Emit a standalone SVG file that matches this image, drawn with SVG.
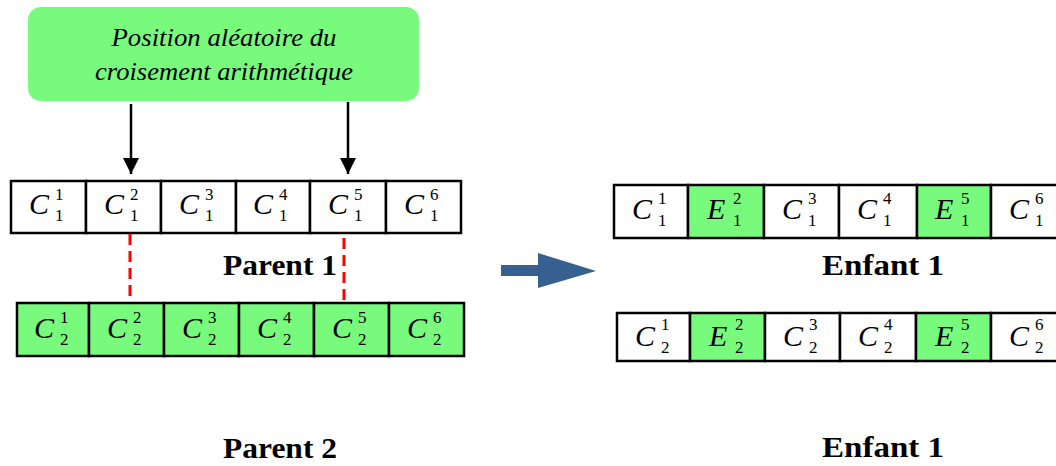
<svg xmlns="http://www.w3.org/2000/svg" width="1056" height="466" viewBox="0 0 1056 466">
<defs>
<marker id="ah" markerWidth="16" markerHeight="16" refX="16" refY="8" orient="auto" markerUnits="userSpaceOnUse" viewBox="0 0 16 16">
<path d="M0,0 L16,8 L0,16 Z" fill="#000"/>
</marker>
<style>
.cell{stroke:#000;stroke-width:2.5;fill:#fff}
.g{fill:#78fa7c}
.v{font-family:'Liberation Serif','Times New Roman',serif;font-style:italic;font-size:30px;fill:#000}
.d{font-family:'Liberation Serif','Times New Roman',serif;font-size:17px;fill:#000}
.lbl{font-family:'Liberation Serif','Times New Roman',serif;font-weight:bold;font-size:30px;fill:#000}
.box{font-family:'Liberation Serif','Times New Roman',serif;font-style:italic;font-size:26px;fill:#000}
</style>
</defs>

<g id="position-box">
<rect x="28" y="7" width="391" height="94" rx="13" fill="#78fa7c"/>
<text class="box" x="224" y="46" text-anchor="middle" textLength="225" lengthAdjust="spacingAndGlyphs">Position aléatoire du</text>
<text class="box" x="224" y="80" text-anchor="middle" textLength="258" lengthAdjust="spacingAndGlyphs">croisement arithmétique</text>
</g>

<g id="parent1">
<rect class="cell" x="11" y="181" width="75" height="52"/>
<rect class="cell" x="86" y="181" width="75" height="52"/>
<rect class="cell" x="161" y="181" width="75" height="52"/>
<rect class="cell" x="236" y="181" width="74" height="52"/>
<rect class="cell" x="310" y="181" width="76" height="52"/>
<rect class="cell" x="386" y="181" width="75" height="52"/>
<text class="v" x="29" y="214">C</text><text class="d" x="55" y="200">1</text><text class="d" x="55" y="221">1</text>
<text class="v" x="104" y="214">C</text><text class="d" x="130" y="200">2</text><text class="d" x="130" y="221">1</text>
<text class="v" x="179" y="214">C</text><text class="d" x="205" y="200">3</text><text class="d" x="205" y="221">1</text>
<text class="v" x="253" y="214">C</text><text class="d" x="279" y="200">4</text><text class="d" x="279" y="221">1</text>
<text class="v" x="328" y="214">C</text><text class="d" x="354" y="200">5</text><text class="d" x="354" y="221">1</text>
<text class="v" x="404" y="214">C</text><text class="d" x="430" y="200">6</text><text class="d" x="430" y="221">1</text>
</g>
<text id="label-parent1" class="lbl" x="280" y="275" text-anchor="middle" textLength="114" lengthAdjust="spacingAndGlyphs">Parent 1</text>

<g id="parent2">
<rect class="cell g" x="17" y="303" width="72" height="53"/>
<rect class="cell g" x="89" y="303" width="75" height="53"/>
<rect class="cell g" x="164" y="303" width="75" height="53"/>
<rect class="cell g" x="239" y="303" width="75" height="53"/>
<rect class="cell g" x="314" y="303" width="75" height="53"/>
<rect class="cell g" x="389" y="303" width="75" height="53"/>
<text class="v" x="34" y="338">C</text><text class="d" x="60" y="323">1</text><text class="d" x="60" y="345">2</text>
<text class="v" x="107" y="338">C</text><text class="d" x="133" y="323">2</text><text class="d" x="133" y="345">2</text>
<text class="v" x="182" y="338">C</text><text class="d" x="208" y="323">3</text><text class="d" x="208" y="345">2</text>
<text class="v" x="257" y="338">C</text><text class="d" x="283" y="323">4</text><text class="d" x="283" y="345">2</text>
<text class="v" x="332" y="338">C</text><text class="d" x="358" y="323">5</text><text class="d" x="358" y="345">2</text>
<text class="v" x="407" y="338">C</text><text class="d" x="433" y="323">6</text><text class="d" x="433" y="345">2</text>
</g>
<text id="label-parent2" class="lbl" x="280" y="458" text-anchor="middle" textLength="114" lengthAdjust="spacingAndGlyphs">Parent 2</text>

<g id="enfant1">
<rect class="cell" x="614" y="185" width="74" height="53"/>
<rect class="cell g" x="688" y="185" width="76" height="53"/>
<rect class="cell" x="764" y="185" width="75" height="53"/>
<rect class="cell" x="839" y="185" width="78" height="53"/>
<rect class="cell g" x="917" y="185" width="74" height="53"/>
<rect class="cell" x="991" y="185" width="76" height="53"/>
<text class="v" x="632" y="219">C</text><text class="d" x="658" y="204">1</text><text class="d" x="658" y="226">1</text>
<text class="v" x="707" y="219">E</text><text class="d" x="733" y="204">2</text><text class="d" x="733" y="226">1</text>
<text class="v" x="782" y="219">C</text><text class="d" x="808" y="204">3</text><text class="d" x="808" y="226">1</text>
<text class="v" x="857" y="219">C</text><text class="d" x="883" y="204">4</text><text class="d" x="883" y="226">1</text>
<text class="v" x="935" y="219">E</text><text class="d" x="961" y="204">5</text><text class="d" x="961" y="226">1</text>
<text class="v" x="1009" y="219">C</text><text class="d" x="1035" y="204">6</text><text class="d" x="1035" y="226">1</text>
</g>
<text id="label-enfant1" class="lbl" x="883" y="275" text-anchor="middle" textLength="122" lengthAdjust="spacingAndGlyphs">Enfant  1</text>

<g id="enfant2">
<rect class="cell" x="617" y="313" width="73" height="48"/>
<rect class="cell g" x="690" y="313" width="75" height="48"/>
<rect class="cell" x="765" y="313" width="75" height="48"/>
<rect class="cell" x="840" y="313" width="76" height="48"/>
<rect class="cell g" x="916" y="313" width="75" height="48"/>
<rect class="cell" x="991" y="313" width="76" height="48"/>
<text class="v" x="635" y="346">C</text><text class="d" x="661" y="330">1</text><text class="d" x="661" y="353">2</text>
<text class="v" x="709" y="346">E</text><text class="d" x="735" y="330">2</text><text class="d" x="735" y="353">2</text>
<text class="v" x="783" y="346">C</text><text class="d" x="809" y="330">3</text><text class="d" x="809" y="353">2</text>
<text class="v" x="858" y="346">C</text><text class="d" x="884" y="330">4</text><text class="d" x="884" y="353">2</text>
<text class="v" x="935" y="346">E</text><text class="d" x="961" y="330">5</text><text class="d" x="961" y="353">2</text>
<text class="v" x="1009" y="346">C</text><text class="d" x="1035" y="330">6</text><text class="d" x="1035" y="353">2</text>
</g>
<text id="label-enfant2" class="lbl" x="883" y="457" text-anchor="middle" textLength="122" lengthAdjust="spacingAndGlyphs">Enfant  1</text>

<g id="connectors">
<line x1="131" y1="104" x2="131" y2="174" stroke="#000" stroke-width="2.5" marker-end="url(#ah)"/>
<line x1="348" y1="102" x2="348" y2="174" stroke="#000" stroke-width="2.5" marker-end="url(#ah)"/>
<line x1="130" y1="234" x2="130" y2="302" stroke="#f00" stroke-width="3" stroke-dasharray="11,6"/>
<line x1="344" y1="238" x2="344" y2="302" stroke="#f00" stroke-width="3" stroke-dasharray="11,6"/>
<path d="M501,265 L538,265 L538,253 L596,271 L538,288 L538,276 L501,276 Z" fill="#36608f"/>
</g>
</svg>
